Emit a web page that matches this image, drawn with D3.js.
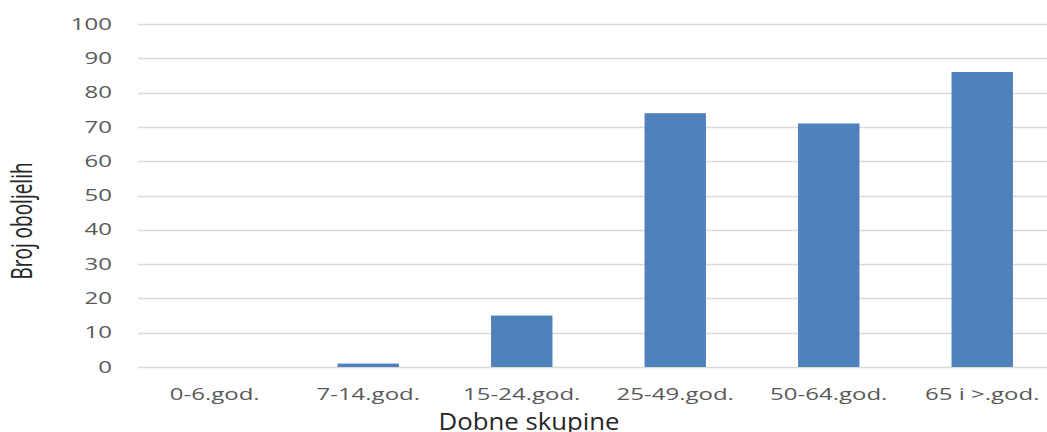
<!DOCTYPE html>
<html>
<head>
  <meta charset="utf-8">
  <script src="https://d3js.org/d3.v7.min.js"></script>
  <style>
    body { margin: 0; background: #fff; }
    svg { display: block; }
  </style>
</head>
<body>
<script>
  // chart data
  var categories = ["0-6.god.", "7-14.god.", "15-24.god.", "25-49.god.", "50-64.god.", "65 i >.god."];
  var values = [0, 1, 15, 74, 71, 86];
  var yTicks = [0, 10, 20, 30, 40, 50, 60, 70, 80, 90, 100];

  var width = 1047, height = 432;
  var stretch = 1.5; // the picture's text is widened horizontally

  var svg = d3.select("body").append("svg")
      .attr("width", width)
      .attr("height", height);

  var x = d3.scaleBand()
      .domain(categories)
      .range([138, 1059])
      .paddingInner(0.6)
      .paddingOuter(0.3);

  var y = d3.scaleLinear()
      .domain([0, 100])
      .range([367, 24]);

  // horizontal gridlines
  svg.append("g").selectAll("line")
      .data(yTicks)
      .enter().append("line")
      .attr("x1", 138)
      .attr("x2", width)
      .attr("y1", function (d) { return Math.round(y(d)) + 0.5; })
      .attr("y2", function (d) { return Math.round(y(d)) + 0.5; })
      .attr("stroke", "#d9d9d9")
      .attr("stroke-width", 1.5);

  // y tick labels
  svg.append("g").selectAll("text")
      .data(yTicks)
      .enter().append("text")
      .attr("transform", function (d) { return "translate(112," + y(d) + ") scale(" + stretch + ",1)"; })
      .attr("text-anchor", "end")
      .attr("dy", "0.35em")
      .style("font-family", "'Open Sans', sans-serif")
      .style("font-size", "16px")
      .style("fill", "#595959")
      .text(function (d) { return d; });

  // bars
  svg.append("g").selectAll("rect")
      .data(values)
      .enter().append("rect")
      .attr("x", function (d, i) { return x(categories[i]); })
      .attr("width", x.bandwidth())
      .attr("y", function (d) { return y(d); })
      .attr("height", function (d) { return y(0) - y(d); })
      .attr("fill", "#4f81bd");

  // x tick labels
  svg.append("g").selectAll("text")
      .data(categories)
      .enter().append("text")
      .attr("transform", function (d) { return "translate(" + (x(d) + x.bandwidth() / 2) + ",400) scale(" + stretch + ",1)"; })
      .attr("text-anchor", "middle")
      .style("font-family", "'Open Sans', sans-serif")
      .style("font-size", "16px")
      .style("fill", "#595959")
      .text(function (d) { return d; });

  // axis titles (the x title is cut by the bottom edge, as in the picture)
  svg.append("text")
      .attr("transform", "translate(529,430) scale(1.12,1)")
      .attr("text-anchor", "middle")
      .style("font-family", "'Open Sans', sans-serif")
      .style("font-size", "23px")
      .style("fill", "#262626")
      .text("Dobne skupine");

  svg.append("text")
      .attr("transform", "translate(32,221) scale(" + stretch + ",1) rotate(-90)")
      .attr("text-anchor", "middle")
      .style("font-family", "'Open Sans', sans-serif")
      .style("font-size", "19px")
      .style("fill", "#262626")
      .text("Broj oboljelih");
</script>
</body>
</html>
